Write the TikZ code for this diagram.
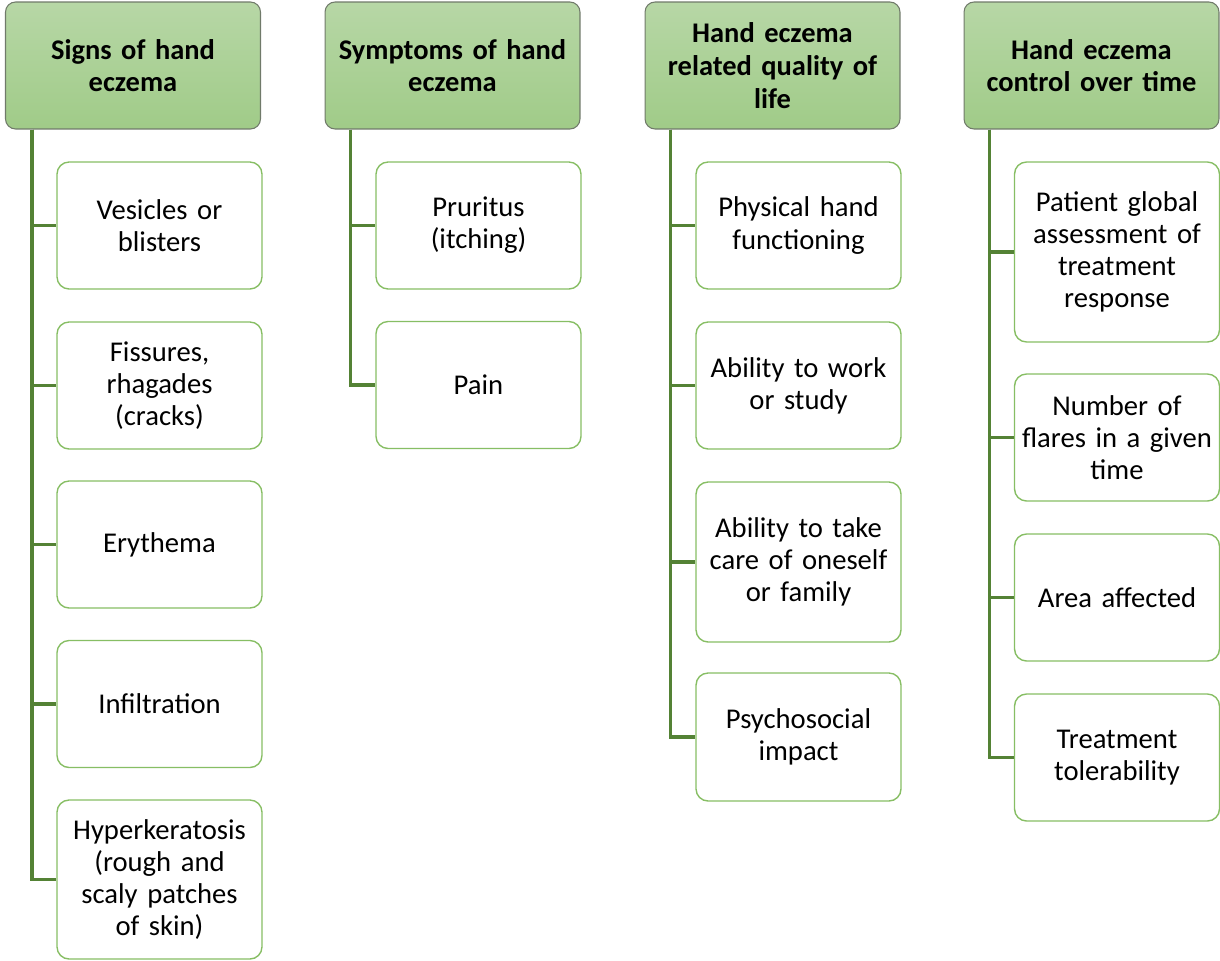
\documentclass[tikz,border=0pt]{standalone}
\usepackage{fontspec}
\setmainfont{Carlito}
\usetikzlibrary{calc}
\definecolor{hdrtop}{RGB}{183,215,166}
\definecolor{hdrbot}{RGB}{160,203,136}
\definecolor{hdrline}{RGB}{112,122,106}
\definecolor{itemline}{RGB}{135,190,100}
\definecolor{linkgreen}{RGB}{84,130,53}
\tikzset{
  hdr/.style={draw=hdrline, line width=0.6pt, rounded corners=0.2cm, top color=hdrtop, bottom color=hdrbot,
    minimum width=5.1cm, minimum height=2.54cm, text width=4.9cm, align=center, inner sep=0pt,
    font=\bfseries\fontsize{16.2}{18.6}\selectfont},
  item/.style={draw=itemline, line width=0.8pt, fill=white, rounded corners=0.24cm,
    minimum width=4.1cm, text width=4.1cm, align=center, inner sep=0pt,
    font=\fontsize{16.3}{18.3}\selectfont},
  link/.style={draw=linkgreen, line width=2pt}
}
\begin{document}
\begin{tikzpicture}[x=0.02cm, y=-0.02cm]
  \useasboundingbox (0,0) rectangle (1220,960);
  % signs
  \node[hdr] (h1) at (133,65.5) {Signs of hand\\eczema};
  \coordinate (s1) at ($(h1.south west)+(27,0)$);
  \foreach \k/\y/\h/\t in {1/225.5/2.54/{Vesicles or\\blisters}, 2/385.5/2.54/{Fissures,\\rhagades\\(cracks)},
      3/544.5/2.54/{Erythema}, 4/704/2.54/{Infiltration},
      5/879.5/3.18/{Hyperkeratosis\\(rough and\\scaly patches\\of skin)}}{
    \node[item, minimum height=\h cm] (c1\k) at (159.5,\y) {\t};
    \draw[link] (s1) |- (c1\k.west);
  }
  % symptoms
  \node[hdr] (h2) at (452.5,65.5) {Symptoms of hand\\eczema};
  \coordinate (s2) at ($(h2.south west)+(26,0)$);
  \foreach \k/\y/\h/\t in {1/225.5/2.54/{Pruritus\\(itching)}, 2/385/2.54/{Pain}}{
    \node[item, minimum height=\h cm] (c2\k) at (478.5,\y) {\t};
    \draw[link] (s2) |- (c2\k.west);
  }
  % quality of life
  \node[hdr] (h3) at (772.5,65.5) {Hand eczema\\related quality of\\life};
  \coordinate (s3) at ($(h3.south west)+(26,0)$);
  \foreach \k/\y/\h/\t in {1/225.5/2.54/{Physical hand\\functioning}, 2/385.5/2.54/{Ability to work\\or study},
      3/562/3.2/{Ability to take\\care of oneself\\or family}, 4/737/2.56/{Psychosocial\\impact}}{
    \node[item, minimum height=\h cm] (c3\k) at (798.5,\y) {\t};
    \draw[link] (s3) |- (c3\k.west);
  }
  % control
  \node[hdr] (h4) at (1091.5,65.5) {Hand eczema\\control over time};
  \coordinate (s4) at ($(h4.south west)+(26,0)$);
  \foreach \k/\y/\h/\t in {1/252/3.6/{Patient global\\assessment of\\treatment\\response}, 2/437.5/2.54/{Number of\\flares in a given\\time},
      3/597.5/2.54/{Area affected}, 4/757.5/2.54/{Treatment\\tolerability}}{
    \node[item, minimum height=\h cm] (c4\k) at (1117,\y) {\t};
    \draw[link] (s4) |- (c4\k.west);
  }
\end{tikzpicture}
\end{document}
